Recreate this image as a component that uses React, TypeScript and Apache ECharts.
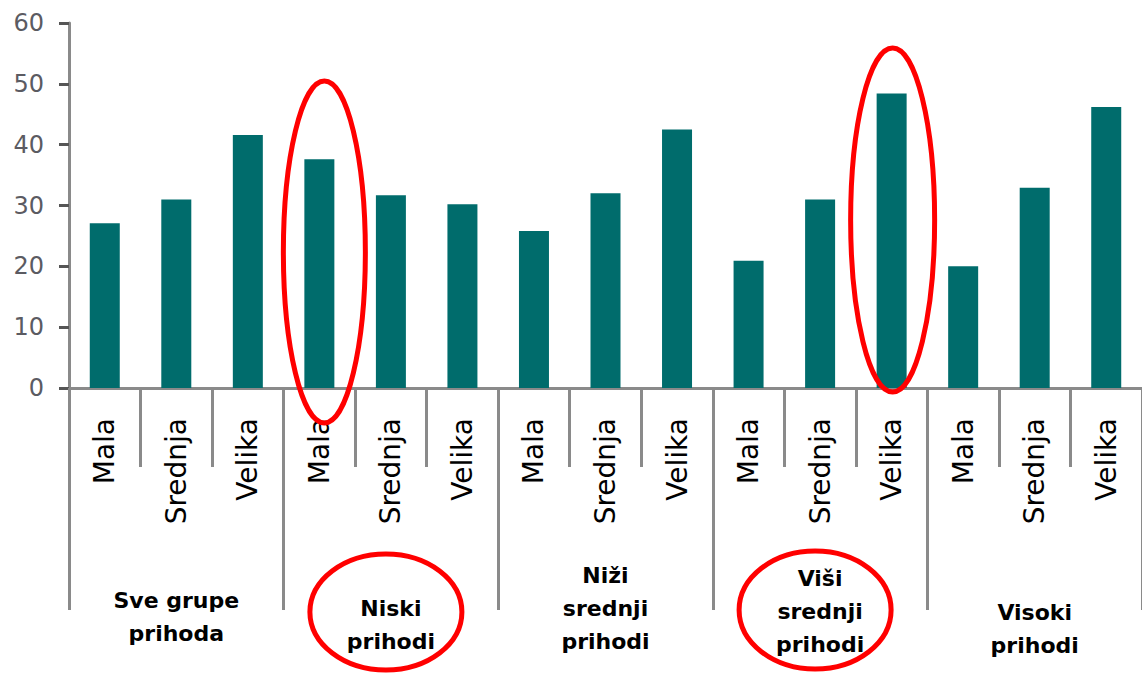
import React, { useEffect, useRef } from "react";
import * as echarts from "echarts";

const categories = [
  "Mala", "Srednja", "Velika",
  "Mala", "Srednja", "Velika",
  "Mala", "Srednja", "Velika",
  "Mala", "Srednja", "Velika",
  "Mala", "Srednja", "Velika",
];
const values = [27.1, 31.0, 41.6, 37.6, 31.7, 30.2, 25.8, 32.0, 42.5, 20.9, 31.0, 48.4, 20.0, 32.9, 46.2];
const groups = [
  "Sve grupe\nprihoda",
  "Niski\nprihodi",
  "Niži\nsrednji\nprihodi",
  "Viši\nsrednji\nprihodi",
  "Visoki\nprihodi",
];
const groupLabelOffsets = [25, 33, 0, 3, 37];
const yTicks = [0, 10, 20, 30, 40, 50, 60];

const FONT = "DejaVu Sans";
const BAR = "#006c6c";
const AXIS = "#8a8a8a";

export default function App() {
  const ref = useRef<HTMLDivElement>(null);
  useEffect(() => {
    if (!ref.current) return;
    const chart = echarts.init(ref.current, undefined, { renderer: "svg" });
    chart.setOption({
      animation: false,
      backgroundColor: "#ffffff",
      grid: { left: 69, top: 23, width: 1074, height: 365, containLabel: false },
      xAxis: [
        {
          type: "category",
          data: categories,
          position: "bottom",
          axisLine: { show: true, lineStyle: { color: AXIS, width: 3 } },
          axisTick: { show: true, interval: 0, length: 79, lineStyle: { color: AXIS, width: 3 } },
          axisLabel: {
            interval: 0,
            rotate: 90,
            margin: 30,
            fontSize: 28,
            fontFamily: FONT,
            color: "#000000",
          },
        },
        {
          type: "category",
          data: groups.map((g, i) => ({ value: g, textStyle: { padding: [groupLabelOffsets[i], 0, 0, 0] } })),
          position: "bottom",
          axisLine: { show: false },
          axisTick: { show: true, interval: 0, length: 222, lineStyle: { color: AXIS, width: 3 } },
          axisLabel: {
            interval: 0,
            margin: 171,
            fontSize: 22,
            lineHeight: 33,
            fontWeight: "bold",
            fontFamily: FONT,
            color: "#000000",
          },
        },
      ],
      yAxis: {
        type: "value",
        min: yTicks[0],
        max: yTicks[yTicks.length - 1],
        interval: 10,
        axisLine: { show: true, lineStyle: { color: AXIS, width: 3 } },
        axisTick: { show: true, length: 10, lineStyle: { color: "#555555", width: 3 } },
        splitLine: { show: false },
        axisLabel: { margin: 25, fontSize: 24, fontFamily: FONT, color: "#5b5b62" },
      },
      series: [
        {
          type: "bar",
          data: values,
          barWidth: 30,
          itemStyle: { color: BAR },
          xAxisIndex: 0,
          yAxisIndex: 0,
        },
      ],
    });

    const px = (i: number) => chart.convertToPixel({ xAxisIndex: 0 }, i) as number;
    const gx = (i: number) => chart.convertToPixel({ xAxisIndex: 1 }, i) as number;
    const red = { fill: "none", stroke: "#ff0000", lineWidth: 5 };
    chart.setOption({
      graphic: [
        { type: "ellipse", shape: { cx: px(3) + 5, cy: 252, rx: 41, ry: 171 }, style: red, z: 100 },
        { type: "ellipse", shape: { cx: px(11) + 1, cy: 220, rx: 42, ry: 172 }, style: red, z: 100 },
        { type: "ellipse", shape: { cx: gx(1) - 5, cy: 612, rx: 76, ry: 58 }, style: red, z: 100 },
        { type: "ellipse", shape: { cx: gx(3) - 5, cy: 610, rx: 76, ry: 59 }, style: red, z: 100 },
      ],
    });
    return () => chart.dispose();
  }, []);
  return (
    <div
      ref={ref}
      style={{ position: "fixed", left: 0, top: 0, width: 1142, height: 674, background: "#fff" }}
    />
  );
}
